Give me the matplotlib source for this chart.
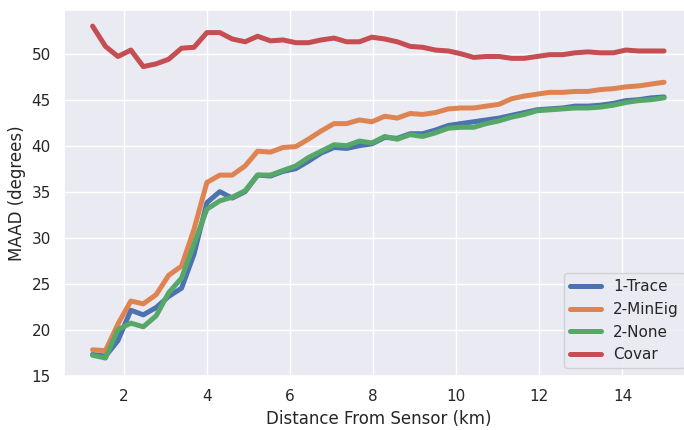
import matplotlib
matplotlib.use("Agg")
import matplotlib.pyplot as plt
import seaborn as sns

# distance from sensor (km)
distance = [1.25, 1.56, 1.86, 2.17, 2.47, 2.78, 3.08, 3.39, 3.69, 4.00,
            4.31, 4.61, 4.92, 5.22, 5.53, 5.83, 6.14, 6.44, 6.75, 7.06,
            7.36, 7.67, 7.97, 8.28, 8.58, 8.89, 9.19, 9.50, 9.81, 10.11,
            10.42, 10.72, 11.03, 11.33, 11.64, 11.94, 12.25, 12.56, 12.86, 13.17,
            13.47, 13.78, 14.08, 14.39, 14.69, 15.00]

trace_1 = [17.3, 17.1, 18.8, 22.1, 21.6, 22.4, 23.6, 24.5, 28.2, 33.8,
           35.0, 34.3, 35.0, 36.8, 36.7, 37.2, 37.5, 38.3, 39.2, 39.8,
           39.7, 40.0, 40.2, 40.9, 40.8, 41.3, 41.3, 41.7, 42.2, 42.4,
           42.6, 42.8, 43.0, 43.3, 43.6, 43.9, 44.0, 44.1, 44.3, 44.3,
           44.4, 44.6, 44.9, 45.0, 45.2, 45.3]

mineig_2 = [17.8, 17.7, 20.6, 23.1, 22.8, 23.8, 25.9, 26.9, 30.9, 36.0,
            36.8, 36.8, 37.8, 39.4, 39.3, 39.8, 39.9, 40.7, 41.6, 42.4,
            42.4, 42.8, 42.6, 43.2, 43.0, 43.5, 43.4, 43.6, 44.0, 44.1,
            44.1, 44.3, 44.5, 45.1, 45.4, 45.6, 45.8, 45.8, 45.9, 45.9,
            46.1, 46.2, 46.4, 46.5, 46.7, 46.9]

none_2 = [17.2, 16.9, 20.0, 20.7, 20.3, 21.5, 24.0, 25.6, 29.3, 33.1,
          34.0, 34.4, 35.1, 36.8, 36.8, 37.3, 37.8, 38.7, 39.4, 40.1,
          40.0, 40.5, 40.3, 41.0, 40.7, 41.2, 41.0, 41.4, 41.9, 42.0,
          42.0, 42.4, 42.7, 43.1, 43.4, 43.8, 43.9, 44.0, 44.1, 44.1,
          44.2, 44.4, 44.7, 44.9, 45.0, 45.2]

covar = [53.0, 50.8, 49.7, 50.4, 48.6, 48.9, 49.4, 50.6, 50.7, 52.3,
         52.3, 51.6, 51.3, 51.9, 51.4, 51.5, 51.2, 51.2, 51.5, 51.7,
         51.3, 51.3, 51.8, 51.6, 51.3, 50.8, 50.7, 50.4, 50.3, 50.0,
         49.6, 49.7, 49.7, 49.5, 49.5, 49.7, 49.9, 49.9, 50.1, 50.2,
         50.1, 50.1, 50.4, 50.3, 50.3, 50.3]

sns.set_theme(style="darkgrid")

fig = plt.figure(figsize=(6.84, 4.30), dpi=100)
# the original picture is cropped on the right, so the axes runs past the edge
ax = fig.add_axes([0.0936, 0.1256, 0.919, 0.851])

ax.plot(distance, trace_1, lw=3.6, label="1-Trace")
ax.plot(distance, mineig_2, lw=3.6, label="2-MinEig")
ax.plot(distance, none_2, lw=3.6, label="2-None")
ax.plot(distance, covar, lw=3.6, label="Covar")

ax.set_xlabel("Distance From Sensor (km)")
ax.set_ylabel("MAAD (degrees)")
ax.set_xticks([2, 4, 6, 8, 10, 12, 14])
ax.set_ylim(14.95, 54.75)
ax.legend(loc="lower right")

fig.savefig("out.png", dpi=100)
